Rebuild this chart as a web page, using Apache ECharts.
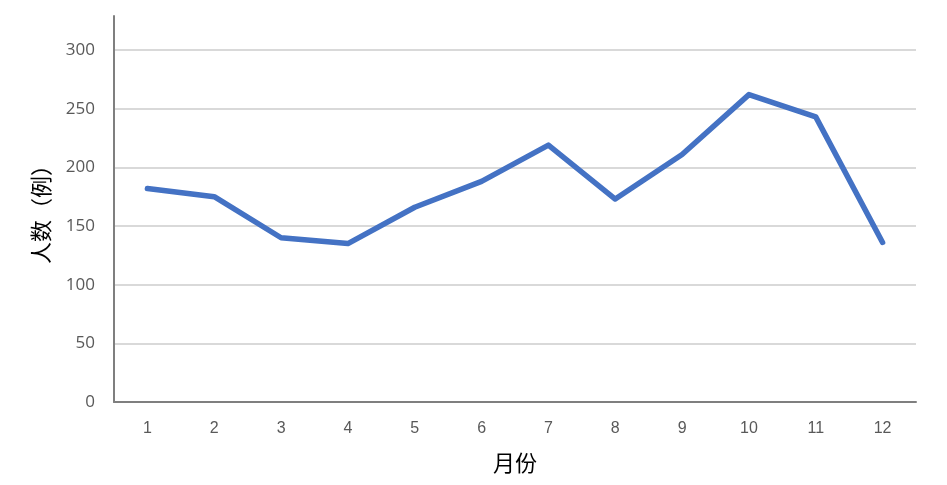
<!DOCTYPE html>
<html>
<head>
<meta charset="utf-8">
<script src="https://cdn.jsdelivr.net/npm/echarts@6/dist/echarts.min.js"></script>
<style>
html,body{margin:0;padding:0;background:#fff;}
#chart{width:947px;height:485px;}
</style>
</head>
<body>
<div id="chart"></div>
<script>
const months = ['1','2','3','4','5','6','7','8','9','10','11','12'];
const counts = [182, 175, 140, 135, 166, 188, 219, 173, 211, 262, 243, 136];
const xName = '月份';
const yName = '人数（例）';

const chart = echarts.init(document.getElementById('chart'), null, {renderer: 'canvas'});
chart.setOption({
  backgroundColor: '#ffffff',
  animation: false,
  grid: {left: 114, right: 31, top: 16, bottom: 83, containLabel: false},
  xAxis: {
    type: 'category',
    data: months,
    boundaryGap: true,
    name: xName,
    nameLocation: 'middle',
    nameGap: 50,
    nameTextStyle: {fontSize: 22, color: '#000', fontFamily: 'Noto Sans CJK SC'},
    axisLine: {show: true, lineStyle: {color: '#7f7f7f', width: 2}},
    axisTick: {show: false},
    axisLabel: {color: '#595959', fontSize: 16, margin: 19, fontFamily: 'Liberation Sans Narrow, Liberation Sans'},
    splitLine: {show: false}
  },
  yAxis: {
    type: 'value',
    min: 0,
    max: 329,
    interval: 50,
    name: yName,
    nameLocation: 'middle',
    nameGap: 62,
    nameRotate: 90,
    nameTextStyle: {fontSize: 22, color: '#000', fontFamily: 'Noto Sans CJK SC'},
    axisLine: {show: true, lineStyle: {color: '#7f7f7f', width: 2}},
    axisTick: {show: false},
    axisLabel: {color: '#595959', fontSize: 17, margin: 19, showMaxLabel: false, fontFamily: 'Open Sans'},
    splitLine: {show: true, showMaxLine: false, lineStyle: {color: '#d9d9d9', width: 2}}
  },
  series: [{
    type: 'line',
    data: counts,
    symbol: 'none',
    lineStyle: {color: '#4472C4', width: 5.5, join: 'round', cap: 'round'},
    itemStyle: {color: '#4472C4'}
  }]
});
</script>
</body>
</html>
